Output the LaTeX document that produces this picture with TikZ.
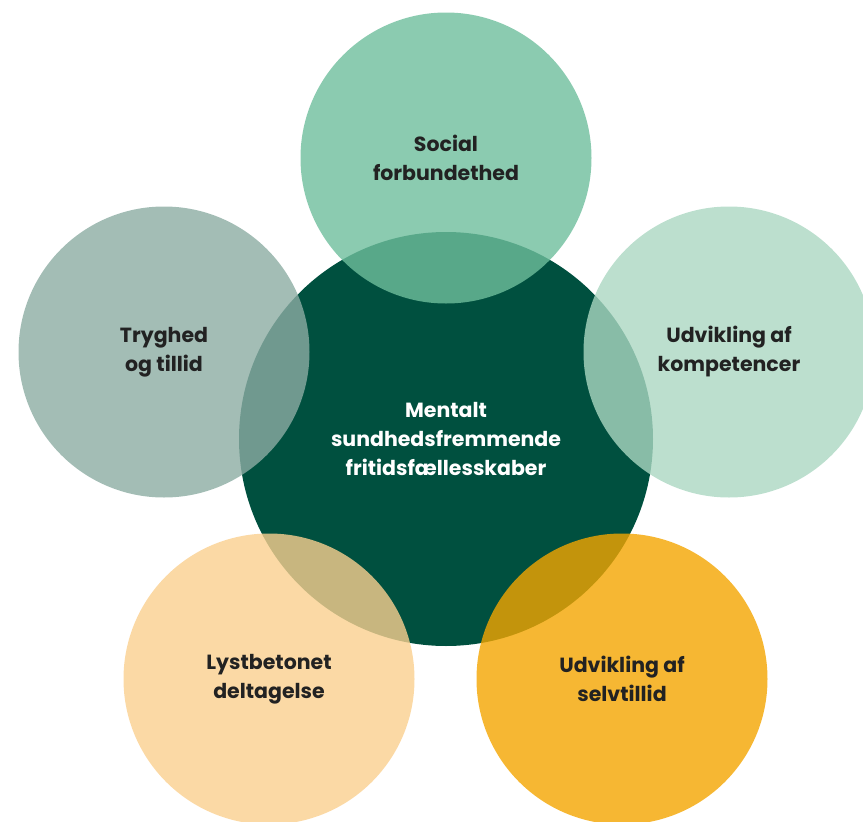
\documentclass[tikz,border=0pt]{standalone}
\usepackage{fontspec}
\setmainfont{Poppins}
\definecolor{kerne}{RGB}{0,80,63}
\definecolor{social}{RGB}{110,190,156}
\definecolor{tryg}{RGB}{140,172,163}
\definecolor{kompetence}{RGB}{171,215,194}
\definecolor{lyst}{RGB}{250,208,143}
\definecolor{selv}{RGB}{244,165,0}
\definecolor{tekst}{RGB}{34,34,34}
\tikzset{
	petal/.style = {circle, inner sep = 0pt, minimum size = 291pt, fill opacity = 0.8, text opacity = 1,
		align = center, text = tekst, font = \fontsize{20.5}{29}\selectfont\bfseries},
	core/.style = {circle, inner sep = 0pt, minimum size = 414pt, fill = kerne,
		align = center, text = white, font = \fontsize{20.5}{29}\selectfont\bfseries}
}
\begin{document}
\begin{tikzpicture}[x = 1pt, y = -1pt]
	\useasboundingbox (0, 0) rectangle (863, 822);

	\node [core] (mentalt) at (446, 439) {Mentalt\\sundhedsfremmende\\fritidsfællesskaber};

	\node [petal, fill = social] (social) at (446, 158) {Social\\forbundethed};
	\node [petal, fill = tryg] (tryghed) at (164, 352) {Tryghed\\og tillid};
	\node [petal, fill = kompetence] (kompetencer) at (729, 352) {Udvikling af\\kompetencer};
	\node [petal, fill = lyst] (lyst) at (269, 679) {Lystbetonet\\deltagelse};
	\node [petal, fill = selv] (selvtillid) at (622, 679) {Udvikling af\\selvtillid};
\end{tikzpicture}
\end{document}
